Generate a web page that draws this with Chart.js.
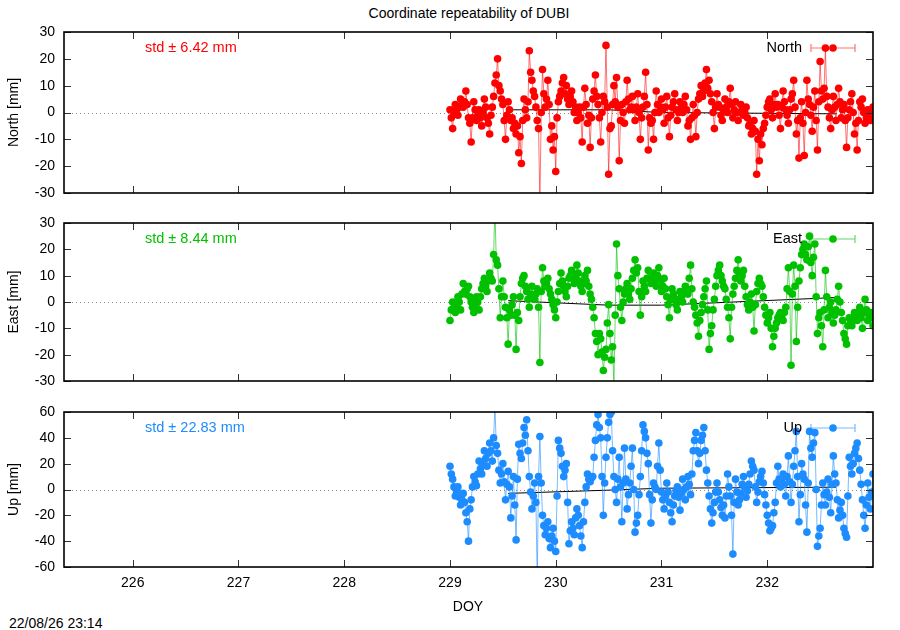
<!DOCTYPE html>
<html>
<head>
<meta charset="utf-8">
<title>Coordinate repeatability of DUBI</title>
<script src="https://cdn.jsdelivr.net/npm/chart.js@4.4.1/dist/chart.umd.min.js"></script>
<style>
  html, body { margin: 0; padding: 0; background: #fff; }
  #page { position: relative; width: 900px; height: 630px; font-family: 'Liberation Sans', Arial, sans-serif; color: #000; overflow: hidden; }
  .panel { position: absolute; left: 0; width: 900px; }
  .txt { position: absolute; font-size: 14px; line-height: 16px; white-space: nowrap; }
</style>
</head>
<body>
<div id="page">
  <div class="txt" style="left:0;width:938px;text-align:center;top:5px">Coordinate repeatability of DUBI</div>
  <div class="panel" style="top:22px;height:181px"><canvas id="northChart"></canvas></div>
  <div class="panel" style="top:213px;height:178px"><canvas id="eastChart"></canvas></div>
  <div class="panel" style="top:402px;height:200px"><canvas id="upChart"></canvas></div>
  <div class="txt" style="left:0;width:936px;text-align:center;top:598px">DOY</div>
  <div class="txt" style="left:9px;top:615px">22/08/26 23:14</div>
</div>
<script>
// sampling of the series (day of year)
const startDoy = 229.0;
const stepDoy = 0.0125;

const xTicks = [226, 227, 228, 229, 230, 231, 232];
const neTicks = [-30, -20, -10, 0, 10, 20, 30];
const upTicks = [-60, -40, -20, 0, 20, 40, 60];

// residuals in mm
const northMm = [
  1, -2, -6, 0, 3, 1, -1, 2, 5, 3, 2, 4, 8, 3, -2, -4, -11, -2, 4, 1,
  -3, -1, 1, -2, -5, 0, 5, 2, -2, -4, -8, -1, 2, 6, 11, 14, 20, 10, 8, 5,
  3, -3, -10, -1, 4, 1, -3, -2, -6, -4, -8, -5, -15, -9, -19, -3, 5, 1, -2, 4,
  23, 15, 12, 8, 6, 2, -3, -6, -34, 0, 16, 7, 2, 5, 12, 3, -10, -5, -14, -9,
  -22, -2, 4, 6, 8, 11, 13, 7, 10, 5, 3, 6, 8, 4, 0, 2, -3, 0, 2, -2,
  -11, 2, 9, 3, -4, -1, -13, -2, 5, 8, 14, 6, 3, -2, -11, 0, 6, 4, 25, 2,
  -23, -6, -5, 3, 10, 4, 13, 2, -18, -3, 3, 0, -4, 4, 12, 5, 1, 2, 6, 1,
  -3, 2, 7, 0, -10, -2, 2, 6, 15, 3, -14, -2, -4, -3, -10, 0, 8, 3,
  0, 2, 5, 1, -4, 2, 6, -2, -9, -1, 2, 4, 7, 1, -3, 0, 4, 2, 0, 3,
  6, 1, -5, -3, -10, -2, 3, -1, -9, 0, 5, 7, 10, 6, 8, 11, 16, 9, 12, 7,
  4, 0, -6, 2, 7, 3, 2, -1, -3, 1, 5, 2, 0, 4, 9, 3, -2, 1, 4, 0,
  -3, 0, 3, 1, -1, 0, 2, -2, -5, -4, -8, -6, -3, -7, -23, -10, -18, -8, -12, -6,
  -4, -1, 2, 4, 5, 1, -2, 3, 7, 2, 3, -1, -6, 2, 8, 4, 1, -1, -4, 1,
  5, 7, 12, 2, -8, -3, -17, -2, 4, -4, -16, 0, 12, 5, 3, -1, -7, 2, 8, -3,
  -14, 4, 19, 8, 5, 9, 24, 6, 2, -2, -6, 1, 6, 2, -3, 3, 9, 4, -2, 1,
  3, -3, -13, -2, 1, 4, 7, 0, -8, -4, -14, -3, 4, 2, 5, 0, -4, -2, 1, -1,
  -3, 0, 2
];
const eastMm = [
  -7, -3, 0, -2, -4, -1, 2, 0, -3, 3, 7, 4, 3, 5, 6, 2, 0, -2, -4, -1,
  2, 0, -3, 2, 5, 7, 9, 6, 4, 8, 11, 9, 8, 18, 36, 16, 14, 5, -6, 2,
  8, 2, -2, -6, -16, -3, -5, -1, 2, -5, -18, -4, -7, 2, 7, 9, 10, 6, 4, 1,
  -2, 3, 6, 2, 1, 3, 5, -2, -23, 4, 13, 8, 6, 7, 9, 5, 3, 1, -1, -3,
  -6, 0, 4, 7, 11, 8, 6, 4, 2, 6, 9, 10, 12, 9, 7, 10, 14, 11, 8, 6,
  4, 7, 10, 8, 12, 6, 3, 1, -2, -6, -12, -15, -20, -12, -14, -19, -26, -21, -18, -8,
  -1, -12, -22, -17, -32, -5, 22, 10, 5, -2, -7, 0, 3, 5, 7, 3, 1, 5, 9, 12,
  16, 11, 13, 4, -5, 2, 8, 6, 4, 9, 12, 9, 7, 10, 11, 8, 6, 10,
  13, 8, 4, 6, 9, 5, 2, -1, -6, 1, 5, 3, 1, -1, -3, 1, 4, 2, 0, 3,
  6, 4, 3, 9, 14, 5, 0, -2, -5, -8, -13, -7, -4, -1, 2, 5, 8, -3, -18, -12,
  -9, -3, 1, 6, 10, 12, 14, 10, 8, 6, 5, 1, -2, -6, -14, -2, 3, 6, 9, 12,
  16, 11, 8, 10, 12, 6, 2, -1, -3, 0, 3, -2, -11, -1, 4, 7, 9, 7, 6, 2,
  -2, -5, -8, -6, -4, -10, -17, -13, -10, -8, -6, -5, -4, -6, -7, -4, -2, 5, 13, 4,
  -24, 3, 14, 6, -15, -2, 8, 13, 18, 20, 22, 18, 16, 21, 25, 15, 10, 17, 22, 2,
  -12, -6, -4, -9, -17, -3, 12, 2, -6, -2, 0, -4, -8, -5, -3, 1, 6, 0, -4, -7,
  -12, -14, -16, -9, -6, -7, -9, -6, -4, -5, -7, -4, -2, -6, -10, -4, 1, -3, -7, -5,
  -4, -6, -9
];
const upMm = [
  18, 12, 8, 2, -5, -2, 2, -6, -12, -8, -3, -10, -18, -25, -40, -15, -8, 2, 10, 6,
  3, 12, 22, 16, 12, 20, 30, 24, 18, 28, 36, 30, 22, 40, 65, 34, 28, 15, 5, 12,
  20, 6, -8, 4, 14, 2, -22, -5, 10, -12, -39, 8, 35, 28, 24, 36, 48, 42, 54, 30,
  10, -2, -15, -5, 5, -10, -70, 10, 41, 5, -20, -28, -35, -30, -25, -38, -45, -36, -30, -40,
  -48, -5, 38, 32, 28, 18, 10, 15, 20, -10, -42, -32, -25, -30, -35, -22, -15, -20, -28, -36,
  -45, -25, -10, 2, 12, 8, 6, 9, 10, 25, 38, 50, 58, 48, 40, 10, -20, 5, 25, 40,
  52, 58, 60, 30, 10, 0, -10, 8, 25, 2, -25, 5, 32, 8, -15, -4, 5, 18, 32, 0,
  -33, -26, -20, -4, 10, 30, 50, 45, 40, 28, 20, -4, -26, -8, 5, 2, 0, 18,
  36, 15, -2, -8, -15, -5, 5, -2, -10, -18, -25, -12, -5, -1, 2, -6, -16, -3, 8, 0,
  -8, 2, 10, 4, -4, 12, 30, 38, 44, 30, 20, 28, 38, 42, 48, 30, 15, 5, -5, -15,
  -26, -18, -10, -2, 5, -2, -8, -14, -20, -12, -22, -5, 12, 2, -5, -20, -50, -10, 8, -2,
  -12, -8, -3, 4, 10, 2, -6, -1, 4, 12, 22, 18, 15, 2, -10, -2, 6, 10, 14, 5,
  -4, -12, -20, -26, -32, -30, -28, -18, -10, 5, 18, 8, 2, 8, 12, 4, -5, 10, 26, 6,
  -10, 4, 18, 30, 45, 10, -25, -4, 20, 12, 8, -12, -33, 5, 45, 32, 25, 36, 44, 0,
  -44, -36, -30, -12, 5, -4, -12, -2, 8, -6, -18, 4, 26, 12, 5, -8, -22, -16, -10, -20,
  -30, -34, -37, -5, 25, 18, 12, 20, 28, 32, 36, 24, 15, 4, -8, -20, -30, -12, 5, -6,
  -15, -2, 12
];

// smoothed trend drawn in black
const trendDoy = [229.55, 230.5, 231.0, 232.65];
const northTrend = [1, 1, 0, -0.5];
const eastTrend = [0.5, -1.2, -1.2, 1.7];
const upTrend = [-3, -0.5, 1, 1.8];

const stdLabels = ['std \u00b1 6.42 mm', 'std \u00b1 8.44 mm', 'std \u00b1 22.83 mm'];

Chart.defaults.font.family = "'Liberation Sans', Arial, sans-serif";
Chart.defaults.font.size = 14;
Chart.defaults.color = '#000';

// gnuplot-like frame, inward ticks, zero line, std text and key
const gnuFrame = {
  id: 'gnuFrame',
  beforeDatasetsDraw(chart) {
    const { ctx, chartArea: a, scales: { y } } = chart;
    const y0 = Math.round(y.getPixelForValue(0)) + 0.5;
    ctx.save();
    ctx.strokeStyle = '#8a8a8a';
    ctx.lineWidth = 1;
    ctx.setLineDash([1, 3]);
    ctx.beginPath();
    ctx.moveTo(a.left, y0);
    ctx.lineTo(a.right, y0);
    ctx.stroke();
    ctx.restore();
  },
  afterDatasetsDraw(chart, args, opts) {
    const { ctx, chartArea: a, scales: { x, y } } = chart;
    ctx.save();
    ctx.strokeStyle = '#333';
    ctx.lineWidth = 1;
    ctx.beginPath();
    xTicks.forEach(v => {
      const px = Math.round(x.getPixelForValue(v)) + 0.5;
      ctx.moveTo(px, a.top); ctx.lineTo(px, a.top + 7);
      ctx.moveTo(px, a.bottom); ctx.lineTo(px, a.bottom - 7);
    });
    opts.yTicks.forEach(v => {
      const py = Math.round(y.getPixelForValue(v)) + 0.5;
      ctx.moveTo(a.left, py); ctx.lineTo(a.left + 7, py);
      ctx.moveTo(a.right, py); ctx.lineTo(a.right - 7, py);
    });
    ctx.stroke();
    ctx.strokeStyle = '#000';
    ctx.lineWidth = 1.6;
    ctx.strokeRect(a.left, a.top, a.right - a.left, a.bottom - a.top);
    ctx.restore();
  },
  afterDraw(chart, args, opts) {
    const { ctx, chartArea: a } = chart;
    const ky = a.top + 16;
    ctx.save();
    ctx.font = "14.5px 'Liberation Sans', Arial, sans-serif";
    ctx.textBaseline = 'middle';
    ctx.fillStyle = opts.color;
    ctx.textAlign = 'left';
    ctx.fillText(opts.std, a.left + 81, ky);
    ctx.fillStyle = '#000';
    ctx.textAlign = 'right';
    ctx.fillText(opts.label, a.right - 71, ky);
    const x1 = a.right - 62, x2 = a.right - 18;
    ctx.strokeStyle = opts.lineColor;
    ctx.lineWidth = 1.2;
    ctx.beginPath();
    ctx.moveTo(x1, ky); ctx.lineTo(x2, ky);
    ctx.moveTo(x1, ky - 4); ctx.lineTo(x1, ky + 4);
    ctx.moveTo(x2, ky - 4); ctx.lineTo(x2, ky + 4);
    ctx.stroke();
    ctx.fillStyle = opts.color;
    ctx.beginPath();
    ctx.arc((x1 + x2) / 2, ky, 3.8, 0, Math.PI * 2);
    ctx.fill();
    ctx.restore();
  }
};

function makePanel(canvasId, values, trend, color, lineColor, yTicks, yTitle, std, label, showX) {
  const doy = values.map((v, i) => startDoy + i * stepDoy);
  return new Chart(document.getElementById(canvasId), {
    type: 'line',
    data: {
      datasets: [
        {
          label: label,
          data: values.map((v, i) => ({ x: doy[i], y: v })),
          borderColor: lineColor,
          borderWidth: 1,
          pointRadius: 3.8,
          pointBackgroundColor: color,
          pointBorderWidth: 0,
          pointHoverRadius: 0,
          clip: 0,
          order: 1
        },
        {
          label: 'trend',
          data: trend.map((v, i) => ({ x: trendDoy[i], y: v })),
          borderColor: '#000',
          borderWidth: 1,
          pointRadius: 0,
          clip: 0,
          order: 2
        }
      ]
    },
    options: {
      responsive: true,
      maintainAspectRatio: false,
      animation: false,
      events: [],
      layout: { padding: { top: 10, right: 27, bottom: showX ? 0 : 10, left: 0 } },
      scales: {
        x: {
          type: 'linear',
          min: 225.35,
          max: 233.0,
          display: showX,
          afterBuildTicks: s => { s.ticks = xTicks.map(v => ({ value: v })); },
          afterFit: s => {
            s.height = showX ? 35 : 0;
            s.paddingLeft = 0;
            s.paddingRight = 0;
          },
          grid: { display: false, drawTicks: false },
          border: { display: false },
          ticks: { padding: 8, maxRotation: 0, autoSkip: false }
        },
        y: {
          type: 'linear',
          min: yTicks[0],
          max: yTicks[yTicks.length - 1],
          afterBuildTicks: s => { s.ticks = yTicks.map(v => ({ value: v })); },
          afterFit: s => {
            s.width = 64;
            s.paddingTop = 0;
            s.paddingBottom = 0;
          },
          grid: { display: false, drawTicks: false },
          border: { display: false },
          ticks: { padding: 9, autoSkip: false },
          title: { display: true, text: yTitle, padding: { top: 6, bottom: 0 } }
        }
      },
      plugins: {
        legend: { display: false },
        tooltip: { enabled: false },
        gnuFrame: { std: std, label: label, color: color, lineColor: lineColor, yTicks: yTicks }
      }
    },
    plugins: [gnuFrame]
  });
}

makePanel('northChart', northMm, northTrend, '#ff0000', 'rgba(255,0,0,0.55)', neTicks, 'North [mm]', stdLabels[0], 'North', false);
makePanel('eastChart', eastMm, eastTrend, '#00c000', 'rgba(0,192,0,0.6)', neTicks, 'East [mm]', stdLabels[1], 'East', false);
makePanel('upChart', upMm, upTrend, '#1c8cff', 'rgba(28,140,255,0.6)', upTicks, 'Up [mm]', stdLabels[2], 'Up', true);
</script>
</body>
</html>
